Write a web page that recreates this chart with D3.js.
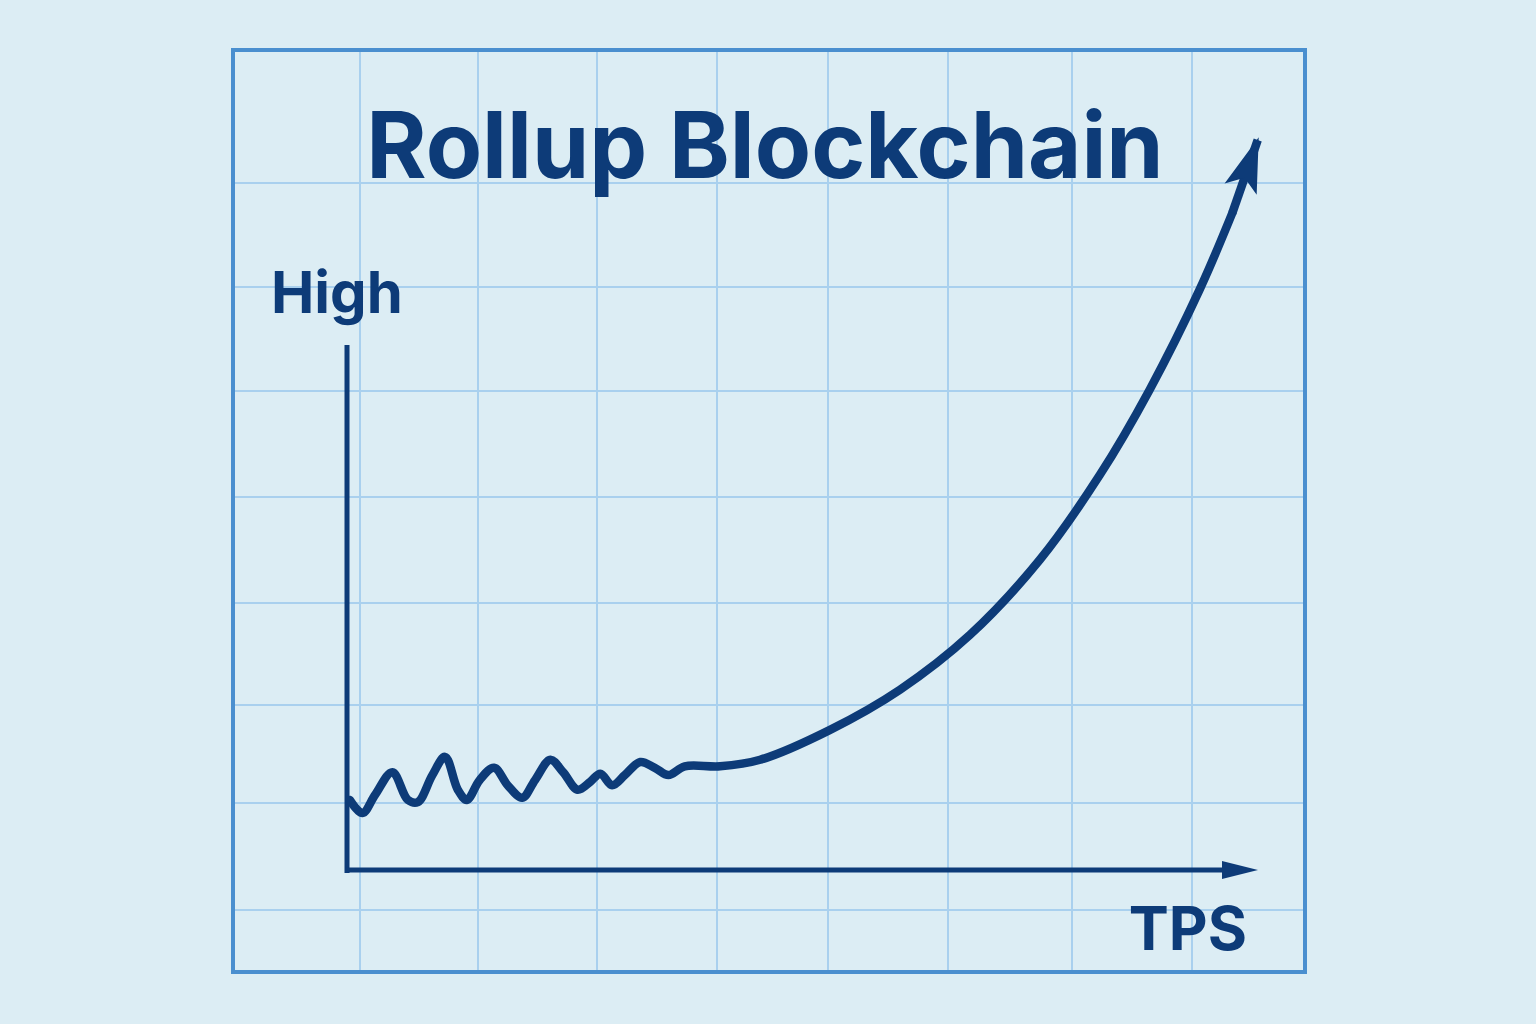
<!DOCTYPE html>
<html>
<head>
<script src="https://d3js.org/d3.v7.min.js"></script>
<style>
  body { margin: 0; background: #dcedf4; }
  text { font-family: Inter, "Noto Sans", sans-serif; font-weight: 700; fill: #0d3b78; }
</style>
</head>
<body>
<div id="chart"></div>
<script>
const title = "Rollup Blockchain";
const yLabel = "High";
const xLabel = "TPS";

// curve values (x: relative TPS 0-100, y: relative level 0-100)
const tps = [0.3, 1.7, 3.1, 5.0, 6.7, 7.8, 9.4, 10.8, 12.2, 13.2, 14.6, 16.2, 17.7, 19.3, 20.7, 22.4, 23.8, 25.4,
             26.8, 27.9, 29.2, 30.6, 32.3, 33.9, 35.4, 37.2, 41.1, 45.5, 53.2, 60.9, 68.6, 76.3, 82.9, 88.4, 93.9, 97.5, 100.3];
const level = [9.6, 7.8, 10.3, 13.4, 9.6, 9.3, 13.0, 15.5, 11.0, 9.6, 12.3, 14.0, 11.6, 9.9, 12.3, 15.1, 13.4, 11.0,
               12.1, 13.2, 11.6, 13.0, 14.8, 14.0, 13.0, 14.2, 14.2, 15.1, 19.2, 24.7, 32.2, 42.5, 54.1, 65.8, 79.5, 90.0, 100];

const gridX = [360, 478, 597, 717, 828, 948, 1072, 1192];
const gridY = [183, 287, 391, 497, 603, 705, 803, 910];

const W = 1536, H = 1024, navy = "#0d3b78";
const svg = d3.select("#chart").append("svg").attr("width", W).attr("height", H);

// grid
svg.append("g").selectAll("line").data(gridX).join("line")
  .attr("x1", d => d).attr("x2", d => d).attr("y1", 52).attr("y2", 970)
  .attr("stroke", "#a9d0ee").attr("stroke-width", 2);
svg.append("g").selectAll("line").data(gridY).join("line")
  .attr("y1", d => d).attr("y2", d => d).attr("x1", 235).attr("x2", 1303)
  .attr("stroke", "#a9d0ee").attr("stroke-width", 2);

svg.append("rect").attr("x", 233).attr("y", 50).attr("width", 1072).attr("height", 922)
  .attr("fill", "none").attr("stroke", "#4a8fcf").attr("stroke-width", 4);

const x = d3.scaleLinear().domain([0, 100]).range([347, 1255]);
const y = d3.scaleLinear().domain([0, 100]).range([870, 140]);

// axes
svg.append("line").attr("x1", x(0)).attr("x2", x(0)).attr("y1", 345).attr("y2", 873)
  .attr("stroke", navy).attr("stroke-width", 5);
svg.append("line").attr("x1", x(0) - 2).attr("y1", 870).attr("x2", 1230).attr("y2", 870)
  .attr("stroke", navy).attr("stroke-width", 5);
svg.append("path").attr("d", "M0,0 L-36,-9 L-36,9 Z").attr("fill", navy)
  .attr("transform", "translate(1258,870)");

const n = level.length;
const line = d3.line().x((d, i) => x(tps[i])).y(d => y(d)).curve(d3.curveCatmullRom.alpha(0.5));
svg.append("path").datum(level.slice(0, n - 1)).attr("d", line)
  .attr("fill", "none").attr("stroke", navy).attr("stroke-width", 8.5)
  .attr("stroke-linecap", "round").attr("stroke-linejoin", "round");

// final segment to the arrow tip
const ex = x(tps[n - 1]), ey = y(level[n - 1]);
const px = x(tps[n - 2]), py = y(level[n - 2]);
svg.append("line").attr("x1", px).attr("y1", py).attr("x2", ex).attr("y2", ey)
  .attr("stroke", navy).attr("stroke-width", 8.5).attr("stroke-linecap", "butt");
const ang = Math.atan2(ey - py, ex - px) * 180 / Math.PI;
svg.append("path").attr("d", "M3,0 L-52,-17 L-40,0 L-52,17 Z").attr("fill", navy)
  .attr("transform", `translate(${ex},${ey}) rotate(${ang})`);

svg.append("text").attr("x", 765).attr("y", 178).attr("text-anchor", "middle")
  .attr("font-size", 92).text(title);
svg.append("text").attr("x", 271).attr("y", 313).attr("font-size", 58).text(yLabel);
svg.append("text").attr("x", 1247).attr("y", 950).attr("text-anchor", "end").attr("font-size", 60).text(xLabel);
</script>
</body>
</html>
